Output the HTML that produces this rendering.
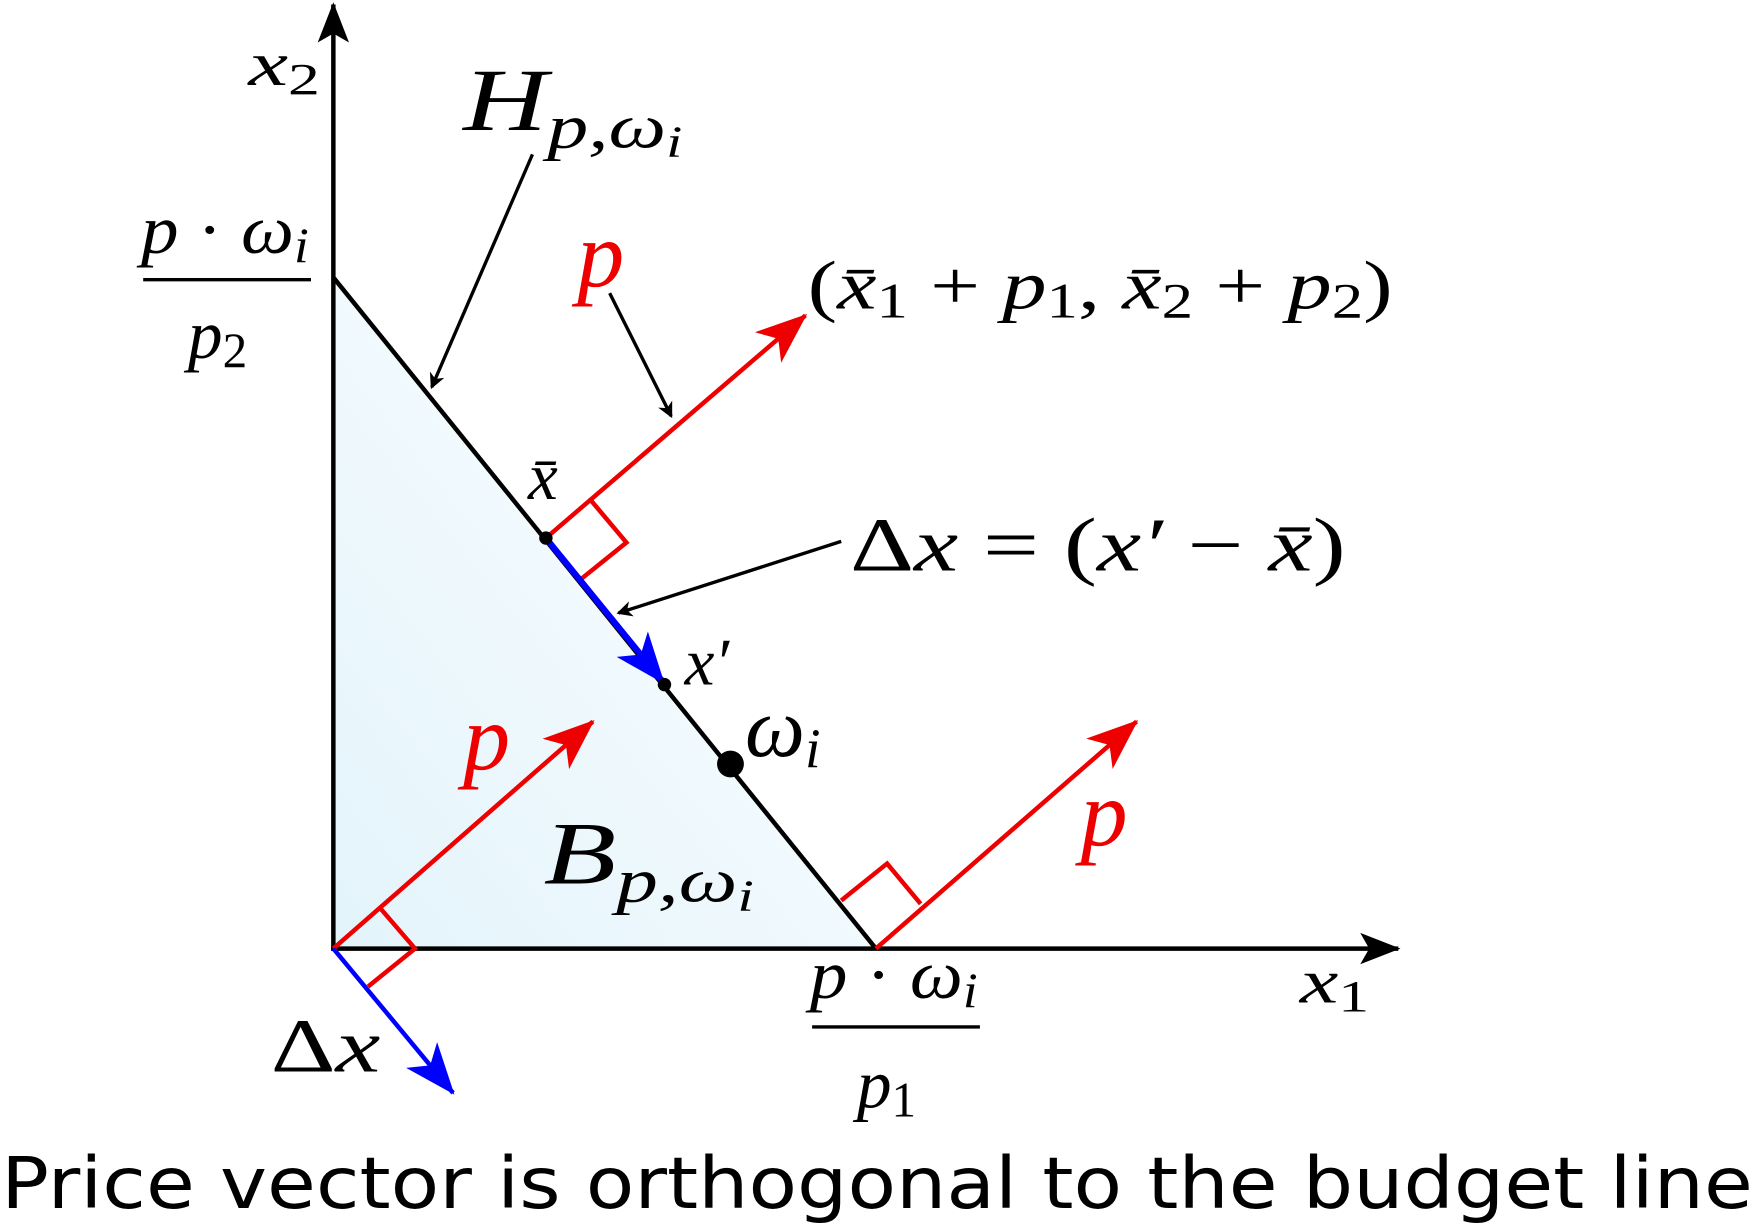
<!DOCTYPE html>
<html><head><meta charset="utf-8"><style>
html,body{margin:0;padding:0;background:#fff;}
svg{display:block;}
.m{font-family:"Liberation Serif",serif;font-style:italic;}
.r{font-family:"Liberation Serif",serif;}
</style></head><body>
<svg width="1754" height="1226" viewBox="0 0 1568 1096" xmlns="http://www.w3.org/2000/svg">
<defs>
<linearGradient id="g" x1="0" y1="1" x2="1" y2="0">
<stop offset="0" stop-color="#e3f4fb"/><stop offset="1" stop-color="#ffffff"/>
</linearGradient>
<marker id="ak" viewBox="-12 -8 14 16" markerWidth="14" markerHeight="16" refX="0" refY="0" orient="auto" markerUnits="userSpaceOnUse"><path d="M2,0 L-12,-7 L-8,0 L-12,7 Z" fill="#000"/></marker>
<marker id="akb" viewBox="-36 -16 38 32" markerWidth="38" markerHeight="32" refX="0" refY="0" orient="auto" markerUnits="userSpaceOnUse"><path d="M2,0 L-34,-14 L-26,0 L-34,14 Z" fill="#000"/></marker>
<marker id="ar" viewBox="-46 -20 48 40" markerWidth="48" markerHeight="40" refX="0" refY="0" orient="auto" markerUnits="userSpaceOnUse"><path d="M2,0 L-44,-18 L-32,0 L-44,18 Z" fill="#e00"/></marker>
<marker id="ab" viewBox="-46 -20 48 40" markerWidth="48" markerHeight="40" refX="0" refY="0" orient="auto" markerUnits="userSpaceOnUse"><path d="M2,0 L-44,-18 L-32,0 L-44,18 Z" fill="#00f"/></marker>
</defs>
<polygon points="298,248 783,848 298,848" fill="url(#g)"/>
<line x1="298" y1="850" x2="298" y2="4" stroke="#000" stroke-width="4" marker-end="url(#akb)"/>
<line x1="296" y1="848" x2="1250" y2="848" stroke="#000" stroke-width="4" marker-end="url(#akb)"/>
<line x1="298" y1="248" x2="783" y2="848" stroke="#000" stroke-width="4"/>
<g stroke="#e00" stroke-width="4" fill="none">
<line x1="488" y1="481" x2="720" y2="282" marker-end="url(#ar)"/>
<polyline points="528,447 560,485 519,518"/>
<line x1="298" y1="848" x2="530" y2="645" marker-end="url(#ar)"/>
<polyline points="340,812 371,848 329,882"/>
<line x1="783" y1="848" x2="1016" y2="645" marker-end="url(#ar)"/>
<polyline points="752,805 793,772 823,808"/>
</g>
<g stroke="#00f">
<line x1="488" y1="481" x2="593" y2="610" stroke-width="5.5" marker-end="url(#ab)"/>
<line x1="298" y1="848" x2="405" y2="977" stroke-width="4" marker-end="url(#ab)"/>
</g>
<circle cx="488" cy="481" r="6" fill="#000"/>
<circle cx="594" cy="612" r="6" fill="#000"/>
<circle cx="653" cy="683" r="12" fill="#000"/>
<g stroke="#000" stroke-width="3">
<line x1="476" y1="138" x2="386" y2="346" marker-end="url(#ak)"/>
<line x1="545" y1="262" x2="600" y2="372" marker-end="url(#ak)"/>
<line x1="752" y1="484" x2="553" y2="548" marker-end="url(#ak)"/>
</g>
<text x="222" y="76" class="m" font-size="56" textLength="64" lengthAdjust="spacingAndGlyphs">x<tspan class="r" font-size="40" dy="8" font-style="normal">2</tspan></text>
<text x="414" y="116" class="m" font-size="80" textLength="196" lengthAdjust="spacingAndGlyphs">H<tspan font-size="56" dy="16">p,ω</tspan><tspan font-size="40" dy="8">i</tspan></text>
<text x="516" y="256" class="m" font-size="84" fill="#e00">p</text>
<text x="722" y="276" class="r" font-size="62" textLength="523" lengthAdjust="spacingAndGlyphs">(<tspan class="m">x̄</tspan><tspan font-size="44" dy="8">1</tspan><tspan dy="-8"> + </tspan><tspan class="m">p</tspan><tspan font-size="44" dy="8">1</tspan><tspan dy="-8">, </tspan><tspan class="m">x̄</tspan><tspan font-size="44" dy="8">2</tspan><tspan dy="-8"> + </tspan><tspan class="m">p</tspan><tspan font-size="44" dy="8">2</tspan><tspan dy="-8">)</tspan></text>
<text x="126" y="226" class="m" font-size="62" textLength="150" lengthAdjust="spacingAndGlyphs">p <tspan class="r" font-style="normal">·</tspan> ω<tspan font-size="44" dy="8">i</tspan></text>
<line x1="128" y1="250" x2="278" y2="250" stroke="#000" stroke-width="3"/>
<text x="168" y="320" class="m" font-size="62">p<tspan class="r" font-style="normal" font-size="44" dy="8">2</tspan></text>
<text x="472" y="446" class="m" font-size="60">x̄</text>
<text x="760" y="510" class="r" font-size="68" textLength="443" lengthAdjust="spacingAndGlyphs">Δ<tspan class="m">x</tspan> = (<tspan class="m">x′</tspan> − <tspan class="m">x̄</tspan>)</text>
<text x="612" y="612" class="m" font-size="60">x′</text>
<text x="666" y="676" class="m" font-size="76">ω<tspan font-size="50" dy="10">i</tspan></text>
<text x="414" y="688" class="m" font-size="84" fill="#e00">p</text>
<text x="486" y="790" class="m" font-size="80" textLength="188" lengthAdjust="spacingAndGlyphs">B<tspan font-size="56" dy="16">p,ω</tspan><tspan font-size="40" dy="8">i</tspan></text>
<text x="966" y="756" class="m" font-size="84" fill="#e00">p</text>
<text x="724" y="892" class="m" font-size="62" textLength="150" lengthAdjust="spacingAndGlyphs">p <tspan class="r" font-style="normal">·</tspan> ω<tspan font-size="44" dy="8">i</tspan></text>
<line x1="726" y1="918" x2="876" y2="918" stroke="#000" stroke-width="3"/>
<text x="766" y="990" class="m" font-size="62">p<tspan class="r" font-style="normal" font-size="44" dy="8">1</tspan></text>
<text x="1162" y="896" class="m" font-size="56" textLength="62" lengthAdjust="spacingAndGlyphs">x<tspan class="r" font-size="40" dy="8" font-style="normal">1</tspan></text>
<text x="242" y="958" class="r" font-size="68" textLength="98" lengthAdjust="spacingAndGlyphs">Δ<tspan class="m">x</tspan></text>
<text x="784" y="1080" text-anchor="middle" font-family="DejaVu Sans, sans-serif" font-size="64" textLength="1566" lengthAdjust="spacingAndGlyphs">Price vector is orthogonal to the budget line</text>
</svg>
</body></html>
